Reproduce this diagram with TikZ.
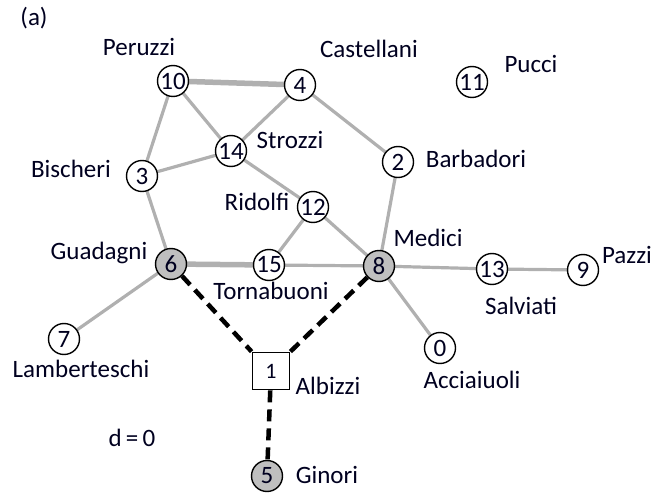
\documentclass[tikz,border=0pt]{standalone}
\usepackage{fontspec}
\setmainfont{Carlito}
\begin{document}
\begin{tikzpicture}[x=1pt,y=-1pt,
  font=\fontsize{25}{27}\selectfont,
  txt/.style={text=black!88!blue},
  actor/.style={circle,draw=black,line width=1.4pt,fill=white,minimum size=31pt,inner sep=0pt,txt},
  hub/.style={actor,fill=gray!50},
  seed/.style={rectangle,draw=black,line width=1.8pt,fill=white,minimum size=37pt,inner sep=0pt,txt,font=\fontsize{22}{24}\selectfont},
  lbl/.style={anchor=base,inner sep=0pt,txt},
  tie/.style={draw=gray!62,line width=3.2pt},
  strongtie/.style={draw=gray!62,line width=5.5pt},
  cut/.style={draw=black,line width=4.5pt,dash pattern=on 12pt off 7pt}]
\useasboundingbox (0,0) rectangle (661,494);

% family positions
\coordinate (p10) at (173,81);
\coordinate (p4)  at (300,85);
\coordinate (p11) at (472,82);
\coordinate (p14) at (231,151);
\coordinate (p3)  at (142,176);
\coordinate (p2)  at (398,162);
\coordinate (p12) at (313,207);
\coordinate (p6)  at (171,264);
\coordinate (p15) at (269,265);
\coordinate (p8)  at (379,266);
\coordinate (p13) at (492,269);
\coordinate (p9)  at (583,270);
\coordinate (p0)  at (440,348);
\coordinate (p7)  at (64,339);
\coordinate (p1)  at (271,371);
\coordinate (p5)  at (267,476);

% marriage ties (drawn first, nodes cover their ends)
\path[strongtie] (p10) -- (p4);
\path[strongtie] (p6) -- (p15);
\path[tie] (p10) -- (p14);
\path[tie] (p10) -- (p3);
\path[tie] (p4) -- (p14);
\path[tie] (p4) -- (p2);
\path[tie] (p14) -- (p3);
\path[tie] (p14) -- (p12);
\path[tie] (p3) -- (p6);
\path[tie] (p2) -- (p8);
\path[tie] (p12) -- (p15);
\path[tie] (p12) -- (p8);
\path[tie] (p15) -- (p8);
\path[tie] (p8) -- (p13);
\path[tie] (p13) -- (p9);
\path[tie] (p8) -- (p0);
\path[tie] (p6) -- (p7);

% families
\node[actor] (n10) at (p10) {10};
\node[actor] (n4)  at (p4)  {4};
\node[actor] (n11) at (p11) {11};
\node[actor] (n14) at (p14) {14};
\node[actor] (n3)  at (p3)  {3};
\node[actor] (n2)  at (p2)  {2};
\node[actor] (n12) at (p12) {12};
\node[hub]   (n6)  at (p6)  {6};
\node[actor] (n15) at (p15) {15};
\node[hub]   (n8)  at (p8)  {8};
\node[actor] (n13) at (p13) {13};
\node[actor] (n9)  at (p9)  {9};
\node[actor] (n0)  at (p0)  {0};
\node[actor] (n7)  at (p7)  {7};
\node[seed]  (n1)  at (p1)  {1};
\node[hub]   (n5)  at (p5)  {5};

% removed ties
\path[cut] (n6) -- (n1.north west);
\path[cut] (n8) -- (n1.north east);
\path[cut] (n1) -- (n5);

% names
\node[lbl] (ta)  at (34,26)   {(a)};
\node[lbl] (t10) at (139,56)  {Peruzzi};
\node[lbl] (t4)  at (369,58)  {Castellani};
\node[lbl] (t11) at (531,73)  {Pucci};
\node[lbl] (t14) at (290,149) {Strozzi};
\node[lbl] (t3)  at (71,178)  {Bischeri};
\node[lbl] (t2)  at (476,168) {Barbadori};
\node[lbl] (t12) at (257,211) {Ridolfi};
\node[lbl] (t6)  at (99,260)  {Guadagni};
\node[lbl] (t8)  at (428,247) {Medici};
\node[lbl] (t15) at (271,299) {Tornabuoni};
\node[lbl] (t13) at (521,314) {Salviati};
\node[lbl] (t9)  at (627,264) {Pazzi};
\node[lbl] (t0)  at (472,388) {Acciaiuoli};
\node[lbl] (t7)  at (81,377)  {Lamberteschi};
\node[lbl] (t1)  at (328,394) {Albizzi};
\node[lbl] (td)  at (132,446) {d\,=\,0};
\node[lbl] (t5)  at (327,483) {Ginori};
\end{tikzpicture}
\end{document}
